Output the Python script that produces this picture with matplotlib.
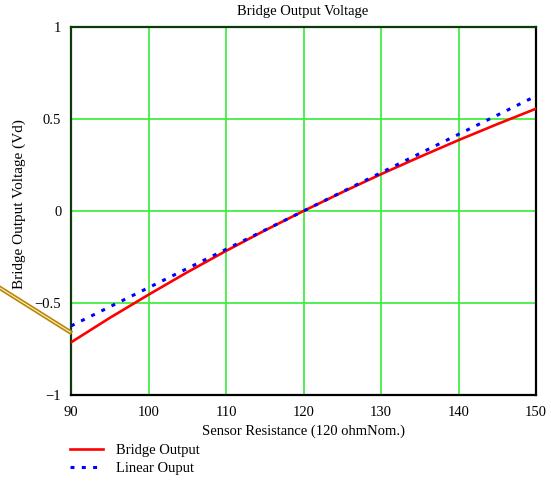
import matplotlib.pyplot as plt
from matplotlib.lines import Line2D

plt.rcParams['font.family'] = ['Liberation Serif', 'DejaVu Serif']

# Sensor resistance (ohm) and bridge output
resistance = [90, 95, 100, 105, 110, 115, 120, 125, 130, 135, 140, 145, 150]
bridge_out = [-0.714, -0.581, -0.455, -0.333, -0.217, -0.106, 0.0,
              0.102, 0.200, 0.294, 0.385, 0.472, 0.556]

# Linear approximation (straight line between end points)
linear_r = [90, 150]
linear_out = [-0.625, 0.625]

x_ticks = [90, 100, 110, 120, 130, 140, 150]
y_ticks = [-1, -0.5, 0, 0.5, 1]
y_tick_labels = ['\u22121', '\u22120.5', '0', '0.5', '1']

fs = 10.5
fig = plt.figure(figsize=(5.51, 4.82), dpi=100)
ax = fig.add_axes([71 / 551, 1 - 395 / 482, 465 / 551, 368 / 482])

ax.plot(resistance, bridge_out, color='#ff0000', lw=1.9, label='Bridge Output', zorder=3)
ax.plot(linear_r, linear_out, color='#0000ff', lw=2.2, linestyle=(0, (1.3, 2.4)),
        label='Linear Ouput', zorder=4)

ax.set_xlim(90, 150)
ax.set_ylim(-1, 1)
ax.set_xticks(x_ticks)
ax.set_yticks(y_ticks)
ax.set_yticklabels(y_tick_labels)
ax.tick_params(length=0, labelsize=fs)
ax.tick_params(axis='x', pad=8)
ax.tick_params(axis='y', pad=7)
ax.grid(True, color='#33ee33', lw=1.2)
ax.set_axisbelow(True)

for side in ['top', 'left']:
    ax.spines[side].set_color('#0b3a0b')
    ax.spines[side].set_linewidth(1.6)
for side in ['bottom', 'right']:
    ax.spines[side].set_color('black')
    ax.spines[side].set_linewidth(1.6)

fig.text(303 / 551, 1 - 11 / 482, 'Bridge Output Voltage', fontsize=fs,
         ha='center', va='center')
fig.text(303 / 551, 1 - 431 / 482, 'Sensor Resistance (120 ohmNom.)', fontsize=fs,
         ha='center', va='center')
fig.text(19 / 551, 1 - 204 / 482, 'Bridge Output Voltage (Vd)', fontsize=11,
         ha='center', va='center', rotation=90)

# stray double line left of the plot (as in the original screenshot)
fig.add_artist(Line2D([0 / 551, 70 / 551], [1 - 288 / 482, 1 - 332 / 482],
                      color='#b8860b', lw=3.2, transform=fig.transFigure))
fig.add_artist(Line2D([0 / 551, 70 / 551], [1 - 288 / 482, 1 - 332 / 482],
                      color='#fff3c0', lw=0.8, transform=fig.transFigure))

fig.legend(loc='upper left', bbox_to_anchor=(70 / 551, 1 - 444 / 482),
           frameon=False, fontsize=fs, handlelength=2.25, handletextpad=0.9,
           labelspacing=0.32, borderaxespad=0, borderpad=0)

fig.savefig('out.png', dpi=100)
